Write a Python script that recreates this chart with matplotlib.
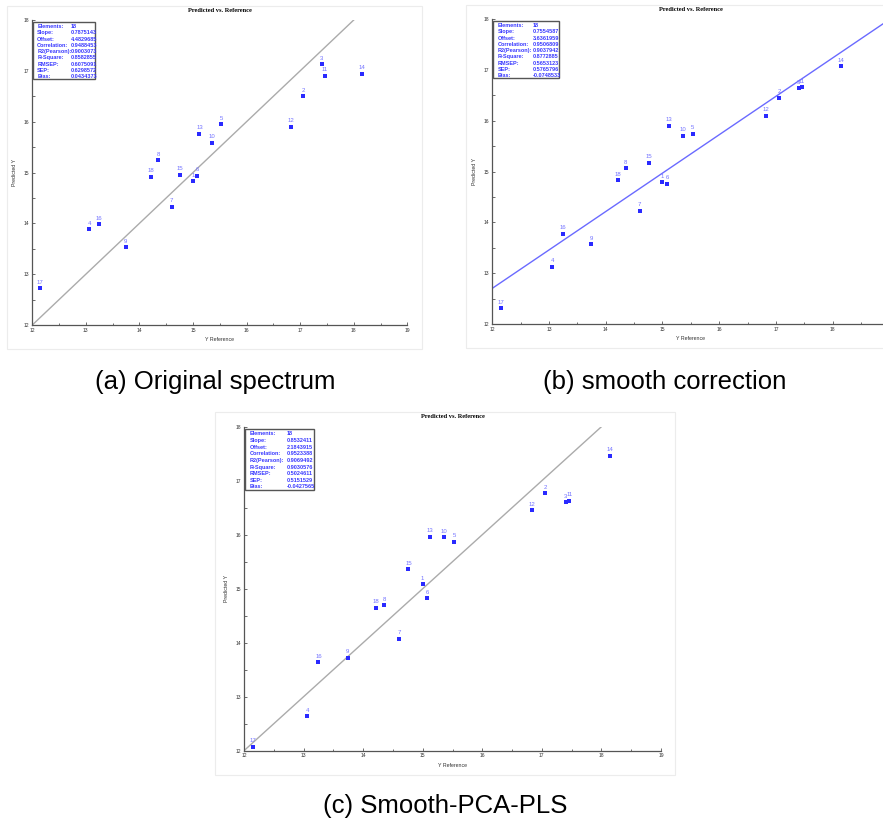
import numpy as np
import matplotlib
matplotlib.use("Agg")
import matplotlib.pyplot as plt
from matplotlib.patches import Rectangle

plt.rcParams['font.family'] = ['Liberation Sans', 'DejaVu Sans']

# sample ids and reference values (same for all three models)
sample_ids = list(range(1, 19))
y_ref = [15.00, 17.06, 17.40, 13.06, 15.53, 15.08, 14.60, 14.35, 13.74,
         15.36, 17.46, 16.83, 15.12, 18.15, 14.76, 13.25, 12.15, 14.22]

# predicted values
pred_a = [14.83, 16.50, 17.13, 13.88, 15.95, 14.93, 14.33, 15.24, 13.53,
          15.58, 16.90, 15.90, 15.76, 16.94, 14.96, 13.98, 12.72, 14.92]
pred_b = [14.79, 16.45, 16.64, 13.12, 15.74, 14.76, 14.23, 15.06, 13.57,
          15.70, 16.66, 16.09, 15.90, 17.07, 15.17, 13.77, 12.31, 14.83]
pred_c = [15.08, 16.77, 16.60, 12.64, 15.87, 14.82, 14.07, 14.69, 13.72,
          15.95, 16.63, 16.45, 15.96, 17.46, 15.36, 13.64, 12.07, 14.65]

stat_names = ["Elements:", "Slope:", "Offset:", "Correlation:", "R2(Pearson):",
              "R-Square:", "RMSEP:", "SEP:", "Bias:"]
stats_a = ["18", "0.7875143", "4.4829685", "0.9488453", "0.9003073",
           "0.8582855", "0.6075091", "0.6298572", "0.0434373"]
stats_b = ["18", "0.7554587", "3.6361959", "0.9506809", "0.9037942",
           "0.8772885", "0.5653123", "0.5765796", "-0.0748533"]
stats_c = ["18", "0.8532411", "2.1843915", "0.9523388", "0.9069492",
           "0.9030576", "0.5024611", "0.5151529", "-0.0427565"]
slope_b, offset_b = 0.7554587, 3.6361959

captions = ["(a) Original spectrum", "(b) smooth correction", "(c) Smooth-PCA-PLS"]

W, H = 883, 825
fig = plt.figure(figsize=(W / 100, H / 100), dpi=100)


def px_axes(x0, x1, ytop, ybot):
    return fig.add_axes([x0 / W, 1 - ybot / H, (x1 - x0) / W, (ybot - ytop) / H])


def frame(x0, x1, ytop, ybot):
    fig.add_artist(Rectangle((x0 / W, 1 - ybot / H), (x1 - x0) / W, (ybot - ytop) / H,
                             transform=fig.transFigure, fill=False,
                             edgecolor='#ececec', lw=0.8))


def panel(ax, pred, stats, fitline=False, xmax_label=19):
    ax.set_xlim(12, 19)
    ax.set_ylim(12, 18)
    for s in ['top', 'right']:
        ax.spines[s].set_visible(False)
    for s in ['left', 'bottom']:
        ax.spines[s].set_color('#555555')
        ax.spines[s].set_linewidth(0.9)
    ax.set_xticks(np.arange(12, xmax_label + 1, 1))
    ax.set_yticks(np.arange(12, 19, 1))
    ax.set_xticks(np.arange(12.5, 19, 1), minor=True)
    ax.set_yticks(np.arange(12.5, 18, 1), minor=True)
    ax.tick_params(which='both', direction='in', labelsize=3.6, colors='#555555',
                   labelcolor='#333333', pad=2)
    ax.tick_params(which='major', length=2.5, width=0.6)
    ax.tick_params(which='minor', length=1.8, width=0.6)

    if fitline:
        ax.axline((0, offset_b), slope=slope_b, color='#6a6aff', lw=1.0, zorder=2)
    else:
        ax.axline((12, 12), slope=1, color='#ababab', lw=1.0, zorder=2)

    ax.scatter(y_ref, pred, marker='s', s=5, color='#2a2aff', zorder=3, lw=0)
    for i, x, y in zip(sample_ids, y_ref, pred):
        ax.annotate(str(i), (x, y), xytext=(0, 2.6), textcoords='offset points',
                    ha='center', va='bottom', fontsize=4.3, color='#7373ff')

    ax.set_title("Predicted vs. Reference", fontsize=4.6, fontweight='bold',
                 family=['Liberation Serif', 'DejaVu Serif'], pad=6)
    ax.set_xlabel("Y Reference", fontsize=3.8, color='#333333', labelpad=3)
    ax.set_ylabel("Predicted Y", fontsize=3.8, color='#333333', labelpad=5)

    ax.add_patch(Rectangle((0.003, 0.805), 0.165, 0.187, transform=ax.transAxes,
                           fill=True, facecolor='white', edgecolor='#555555',
                           lw=1.0, zorder=4))
    for k, (name, val) in enumerate(zip(stat_names, stats)):
        yy = 0.978 - k * 0.0205
        ax.text(0.013, yy, name, transform=ax.transAxes, fontsize=4.0,
                fontweight='bold', color='#3a3aff', va='center', zorder=5)
        ax.text(0.102, yy, val, transform=ax.transAxes, fontsize=4.0,
                fontweight='bold', color='#3a3aff', va='center', zorder=5)


# panel frames (screenshot borders)
frame(7, 422, 6, 349)
frame(466, 890, 5, 348)
frame(215, 675, 412, 775)

ax_a = px_axes(32.3, 407.3, 20, 325)
panel(ax_a, pred_a, stats_a)

ax_b = px_axes(492.3, 889.4, 19, 324)
panel(ax_b, pred_b, stats_b, fitline=True, xmax_label=18)

ax_c = px_axes(244, 661, 426.7, 750.7)
panel(ax_c, pred_c, stats_c)

fig.text(215 / W, 1 - 382 / H, captions[0], ha='center', va='center', fontsize=18.5)
fig.text(665 / W, 1 - 382 / H, captions[1], ha='center', va='center', fontsize=18.5)
fig.text(445 / W, 1 - 806 / H, captions[2], ha='center', va='center', fontsize=18.5)

fig.savefig("out.png", dpi=100, facecolor='white')
